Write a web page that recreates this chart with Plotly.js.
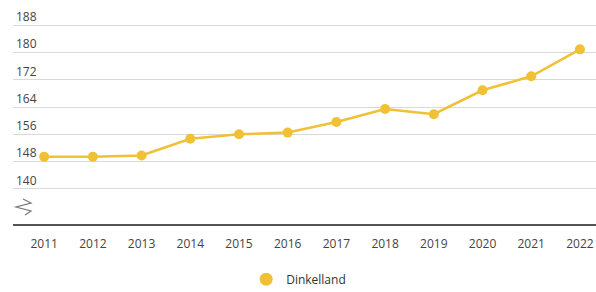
<!DOCTYPE html>
<html>
<head>
<meta charset="utf-8">
<script src="https://cdn.plot.ly/plotly-3.0.1.min.js"></script>
<style>html,body{margin:0;padding:0;background:#fff}#chart{width:596px;height:292px}</style>
</head>
<body>
<div id="chart"></div>
<script>
const years = [2011, 2012, 2013, 2014, 2015, 2016, 2017, 2018, 2019, 2020, 2021, 2022];
const values = [149.4, 149.4, 149.8, 154.7, 156.0, 156.5, 159.6, 163.4, 161.9, 168.9, 173.0, 180.9];
const seriesName = 'Dinkelland';
const yTicks = [140, 148, 156, 164, 172, 180, 188];

const color = '#F0C135';
const trace = {
  x: years, y: values, name: seriesName, type: 'scatter', mode: 'lines+markers',
  line: {color: color, width: 2.5},
  marker: {color: color, size: 10},
  showlegend: false
};
const legendTrace = {
  x: [null], y: [null], name: seriesName, type: 'scatter', mode: 'markers',
  marker: {color: color, size: 13}, showlegend: true
};
const layout = {
  width: 596, height: 292,
  margin: {l: 13, r: 0, t: 4, b: 68, autoexpand: false},
  paper_bgcolor: '#fff', plot_bgcolor: '#fff',
  font: {family: 'Open Sans, sans-serif', size: 12, color: '#444'},
  showlegend: true,
  legend: {orientation: 'h', x: 0.49, xanchor: 'center', y: -0.185, yanchor: 'top',
           font: {size: 12, color: '#333'}, itemwidth: 20},
  xaxis: {
    range: [2010.36, 2022.33], tickmode: 'array', tickvals: years, ticktext: years.map(String),
    showgrid: false, zeroline: false, showline: true, linecolor: '#555', linewidth: 2,
    ticks: '', fixedrange: true, tickfont: {size: 12, color: '#444'}, ticklabelstandoff: 8
  },
  yaxis: {
    range: [129.7, 194.2], tickmode: 'array', tickvals: yTicks, ticktext: yTicks.map(String),
    ticklabelposition: 'inside top', showgrid: true, gridcolor: '#d9d9d9', gridwidth: 1,
    zeroline: false, showline: false, ticks: '', tickfont: {size: 12, color: '#444'}
  },
  shapes: [{
    type: 'path', xref: 'paper', yref: 'paper',
    path: 'M 0.0172 0.1136 L 0.0309 0.0955 L 0.0051 0.0773 L 0.0309 0.0591 L 0.0206 0.0409',
    line: {color: '#777', width: 1.2}
  }]
};
Plotly.newPlot('chart', [trace, legendTrace], layout, {displayModeBar: false, staticPlot: true});
</script>
</body>
</html>
